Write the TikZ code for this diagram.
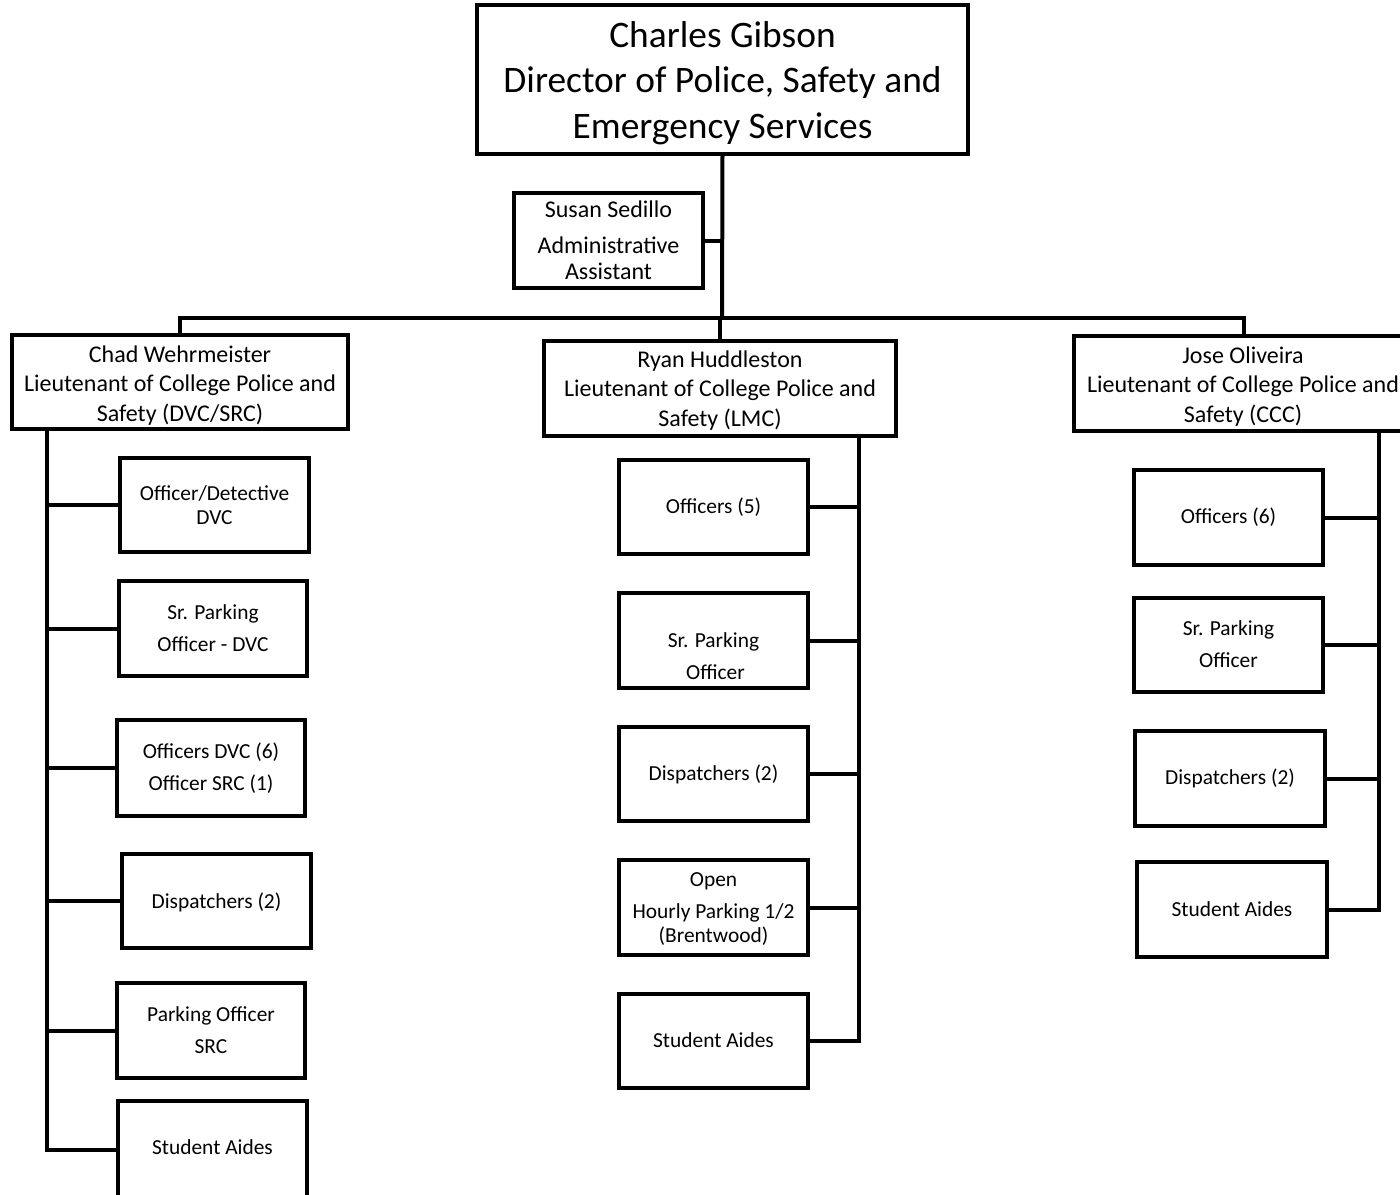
\documentclass[tikz,border=0pt]{standalone}
\usepackage{fontspec}
\setmainfont{Carlito}
\newcommand\obox[5]{\node[box, minimum width={(#4)-(#2)}, minimum height={(#5)-(#3)}] (#1) at ({((#2)+(#4))/2},{((#3)+(#5))/2}) {};}
\newcommand\tx[5]{\node[#1] (#2) at (#3,#4) {#5};}
\begin{document}
\begin{tikzpicture}[x=1pt,y=-1pt,
 box/.style={draw, line width=4pt, inner sep=0pt, outer sep=0pt},
 conn/.style={line width=4pt},
 tA/.style={font=\fontsize{37.4}{44}\selectfont, anchor=base, inner sep=0pt},
 tB/.style={font=\fontsize{24}{29}\selectfont, anchor=base, inner sep=0pt},
 tC/.style={font=\fontsize{21.4}{25}\selectfont, anchor=base, inner sep=0pt}]
\useasboundingbox (0,0) rectangle (1400,1194);
% boxes
\obox{top}{477}{5}{968}{154}
\obox{susan}{514}{193}{703}{288}
\obox{chad}{12}{335}{348}{429}
\obox{ryan}{544}{341}{896}{436}
\obox{jose}{1074}{336}{1414}{431}
\obox{c1}{120}{458}{309}{552}
\obox{c2}{119}{581}{307}{676}
\obox{c3}{117}{720}{305}{816}
\obox{c4}{122}{854}{311}{948}
\obox{c5}{117}{983}{305}{1078}
\obox{c6}{118}{1101}{307}{1198}
\obox{r1}{619}{460}{808}{554}
\obox{r2}{619}{593}{808}{688}
\obox{r3}{619}{727}{808}{821}
\obox{r4}{619}{860}{808}{955}
\obox{r5}{619}{994}{808}{1088}
\obox{j1}{1134}{470}{1323}{565}
\obox{j2}{1134}{598}{1323}{692}
\obox{j3}{1135}{731}{1325}{826}
\obox{j4}{1137}{862}{1327}{957}
% texts
\tx{tA}{topA}{722.5}{47}{Charles Gibson}
\tx{tA}{topB}{722.5}{92}{Director of Police, Safety and}
\tx{tA}{topC}{722.5}{138}{Emergency Services}
\tx{tB}{susA}{608.5}{217}{Susan Sedillo}
\tx{tB}{susB}{608.5}{253}{Administrative}
\tx{tB}{susC}{608.5}{279}{Assistant}
\tx{tB}{chadA}{180}{362}{Chad Wehrmeister}
\tx{tB}{chadB}{180}{391}{Lieutenant of College Police and}
\tx{tB}{chadC}{180}{421}{Safety (DVC/SRC)}
\tx{tB}{ryanA}{720}{367}{Ryan Huddleston}
\tx{tB}{ryanB}{720}{396}{Lieutenant of College Police and}
\tx{tB}{ryanC}{720}{426}{Safety (LMC)}
\tx{tB}{joseA}{1243}{363}{Jose Oliveira}
\tx{tB}{joseB}{1243}{392}{Lieutenant of College Police and}
\tx{tB}{joseC}{1243}{422}{Safety (CCC)}
\tx{tC}{c1a}{214.5}{500}{Officer/Detective}
\tx{tC}{c1b}{214.5}{524}{DVC}
\tx{tC}{c2a}{213}{619}{Sr. Parking}
\tx{tC}{c2b}{213}{651}{Officer - DVC}
\tx{tC}{c3a}{211}{758}{Officers DVC (6)}
\tx{tC}{c3b}{211}{790}{Officer SRC (1)}
\tx{tC}{c4a}{216.5}{908}{Dispatchers (2)}
\tx{tC}{c5a}{211}{1021}{Parking Officer}
\tx{tC}{c5b}{211}{1053}{SRC}
\tx{tC}{c6a}{212.5}{1154}{Student Aides}
\tx{tC}{r1a}{713.5}{513}{Officers (5)}
\tx{tC}{r2a}{713.5}{647}{Sr. Parking}
\tx{tC}{r2b}{715.5}{679}{Officer}
\tx{tC}{r3a}{713.5}{780}{Dispatchers (2)}
\tx{tC}{r4a}{713.5}{886}{Open}
\tx{tC}{r4b}{713.5}{918}{Hourly Parking 1/2}
\tx{tC}{r4c}{713.5}{942}{(Brentwood)}
\tx{tC}{r5a}{713.5}{1047}{Student Aides}
\tx{tC}{j1a}{1228.5}{523}{Officers (6)}
\tx{tC}{j2a}{1228.5}{635}{Sr. Parking}
\tx{tC}{j2b}{1228.5}{667}{Officer}
\tx{tC}{j3a}{1230}{784}{Dispatchers (2)}
\tx{tC}{j4a}{1232}{916}{Student Aides}
% connectors
\coordinate (bus) at (722,318);
\coordinate (lspine) at (47,0);
\coordinate (mspine) at (859,0);
\coordinate (rspine) at (1379,0);
\draw[conn] (top.south) -- (bus);
\draw[conn] (susan.east) -- (susan.east -| top.south);
\draw[conn] (chad.north) |- (bus) -| (jose.north);
\draw[conn] (ryan.north) -- (ryan.north |- bus);
\draw[conn] (chad.south -| lspine) |- (c6.west);
\foreach \n in {c1,c2,c3,c4,c5} \draw[conn] (\n.west) -- (\n.west -| lspine);
\draw[conn] (ryan.south -| mspine) |- (r5.east);
\foreach \n in {r1,r2,r3,r4} \draw[conn] (\n.east) -- (\n.east -| mspine);
\draw[conn] (jose.south -| rspine) |- (j4.east);
\foreach \n in {j1,j2,j3} \draw[conn] (\n.east) -- (\n.east -| rspine);
\end{tikzpicture}
\end{document}
